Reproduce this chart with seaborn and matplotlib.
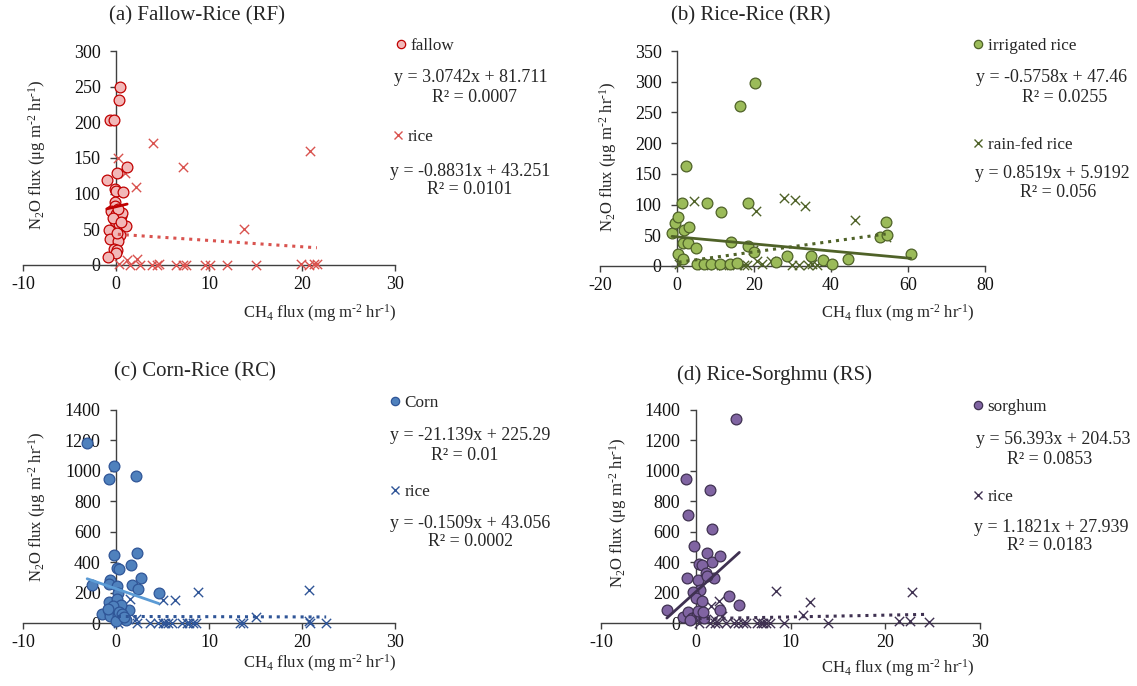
import matplotlib
matplotlib.use("Agg")
import matplotlib.pyplot as plt
from matplotlib.lines import Line2D
import numpy as np
import pandas as pd
import seaborn as sns

# ---- data ----
# (a) Fallow-Rice
fallow_x = [0.4, 0.3, -0.6, -0.2, 0.1, 1.2, -1.0, -0.1, 0.0, 0.8, -0.1, -0.1, -0.5, 0.0, 0.4, 0.5, 0.2,
            -0.1, 0.3, 0.6, 1.1, -0.8, 0.4, -0.6, 0.2, -0.2, 0.1, 0.0, -0.9, 0.2, -0.3, 0.5, 0.1]
fallow_y = [249, 231, 203, 203, 129, 138, 119, 106, 104, 102, 88, 83, 75, 72, 70, 68, 64,
            62, 57, 73, 55, 49, 42, 37, 33, 23, 21, 17, 11, 78, 66, 60, 45]
rice_a_x = [0.2, 1.0, 2.1, 4.0, 7.2, 13.8, 20.9, 0.3, 1.2, 2.3, 1.5, 2.6, 3.9, 4.4, 4.6, 6.4, 7.2,
            7.5, 9.6, 10.1, 11.9, 15.1, 19.9, 20.7, 21.3, 21.6]
rice_a_y = [150, 129, 109, 171, 138, 51, 160, 2, 7, 9, 0, 0, 0, 0, 1, 0, 0,
            0, 0, 0, 0, 0, 2, 0, 2, 2]

# (b) Rice-Rice
irr_x = [-1.3, -0.6, 0.3, 1.3, 1.7, 3.1, 2.3, 1.6, 2.9, 4.9, 0.3, 1.5, 7.9, 11.4, 14.0, 16.3, 20.2, 18.4,
         18.4, 20.0, 5.2, 6.9, 8.9, 11.1, 13.7, 15.6, 25.8, 28.7, 34.7, 37.9, 40.2, 44.4, 52.6, 54.6, 54.4, 60.7]
irr_y = [54, 70, 80, 102, 59, 64, 163, 38, 37, 30, 20, 11, 102, 88, 39, 260, 298, 103,
         33, 22, 3, 3, 3, 3, 3, 5, 7, 16, 16, 9, 3, 12, 48, 50, 71, 20]
rain_x = [4.3, 20.6, 27.7, 30.6, 33.3, 46.2, 19.7, 0.4, 6.8, 9.8, 11.3, 12.0, 15.7, 17.4, 18.3, 20.9,
          22.2, 24.4, 29.9, 31.7, 34.0, 35.1, 36.3, 54.2]
rain_y = [106, 90, 110, 107, 97, 75, 26, 3, 2, 2, 2, 2, 2, 2, 2, 8,
          3, 8, 2, 2, 2, 3, 2, 47]

# (c) Corn-Rice
corn_x = [-3.1, -0.25, -0.8, 2.2, -0.25, 2.3, 1.6, 0.1, 0.35, 2.7, -0.6, -2.6, -0.8, 0.1, 1.7, 2.4, 4.6, 0.2,
          -0.7, 0.1, 1.4, -1.5, -0.7, -0.6, 0.4, 0.2, 0.8, 1.1, 0.0, 0.5, -0.3, 0.3, 0.6, -0.9, 0.9]
corn_y = [1182, 1033, 947, 963, 447, 458, 382, 362, 352, 294, 284, 250, 258, 245, 250, 222, 200, 200,
          140, 155, 85, 59, 80, 47, 97, 52, 30, 19, 10, 120, 110, 70, 60, 95, 40]
rice_c_x = [1.5, 5.1, 6.3, 8.8, 20.7, 15.1, 2.2, 20.7, 0.2, 2.3, 3.7, 4.5, 5.0, 5.3, 5.6, 6.0, 7.1, 7.6,
            7.9, 8.3, 8.6, 13.3, 13.7, 20.9, 22.6]
rice_c_y = [160, 153, 153, 203, 214, 37, 26, 11, 2, 2, 2, 2, 2, 2, 2, 2, 2, 2,
            2, 2, 2, 2, 2, 2, 2]

# (d) Rice-Sorghum
sorg_x = [4.2, -1.0, 1.5, -0.8, 1.75, -0.2, 1.2, 1.75, 2.6, 0.3, 0.7, 1.05, -0.95, 0.2, 1.9, 1.2, 0.5,
          -0.25, 0.0, 0.7, 3.5, 4.6, 2.6, -3.05, -1.3, -0.8, -0.4, 0.1, 0.4, 0.6, 0.9, -0.6, 0.2, 0.8]
sorg_y = [1339, 945, 871, 707, 617, 508, 460, 403, 438, 387, 383, 328, 293, 284, 295, 306, 219,
          201, 164, 142, 175, 118, 83, 83, 40, 70, 30, 50, 60, 45, 35, 20, 80, 70]
rice_d_x = [8.5, 12.1, 22.8, 11.3, 2.5, 1.6, 2.8, 1.9, 0.3, 1.5, 2.0, 2.3, 3.2, 4.0, 4.5, 5.0, 5.3, 6.5,
            6.9, 7.1, 7.4, 7.8, 9.3, 14.0, 21.4, 22.6, 24.6]
rice_d_y = [208, 138, 203, 50, 142, 114, 44, 26, 2, 2, 2, 2, 2, 2, 2, 2, 2, 2,
            2, 2, 2, 2, 2, 2, 11, 11, 4]

titles = ["(a) Fallow-Rice (RF)", "(b) Rice-Rice (RR)", "(c) Corn-Rice (RC)", "(d) Rice-Sorghmu (RS)"]
circle_names = ["fallow", "irrigated rice", "Corn", "sorghum"]
cross_names = ["rice", "rain-fed rice", "rice", "rice"]
circle_fit = [(3.0742, 81.711), (-0.5758, 47.46), (-21.139, 225.29), (56.393, 204.53)]
cross_fit = [(-0.8831, 43.251), (0.8519, 5.9192), (-0.1509, 43.056), (1.1821, 27.939)]
r2_text = [("0.0007", "0.0101"), ("0.0255", "0.056"), ("0.01", "0.0002"), ("0.0853", "0.0183")]
x_ranges = [(-10, 30, 10), (-20, 80, 20), (-10, 30, 10), (-10, 30, 10)]
y_ranges = [(0, 300, 50), (0, 350, 50), (0, 1400, 200), (0, 1400, 200)]

circles = [(fallow_x, fallow_y), (irr_x, irr_y), (corn_x, corn_y), (sorg_x, sorg_y)]
crosses = [(rice_a_x, rice_a_y), (rain_x, rain_y), (rice_c_x, rice_c_y), (rice_d_x, rice_d_y)]

# colours: circle face, circle edge, circle trend, cross colour, cross trend
colors = [
    ("#F2B8B8", "#C00000", "#C00000", "#D9534F", "#D9534F"),
    ("#9BBB59", "#4F6228", "#4F6228", "#4F6228", "#4F6228"),
    ("#4F81BD", "#2F5597", "#5B9BD5", "#2F5597", "#2F5597"),
    ("#8064A2", "#3F3151", "#3F3151", "#3F3151", "#3F3151"),
]

# ---- layout (pixels in a 1137x686 canvas) ----
W, H = 1137, 686
axes_px = [(23, 51, 395, 265), (600, 51, 985, 266), (23, 410, 395, 623), (601, 410, 980, 623)]
title_px = [(197, 16), (751, 16), (195, 372), (774, 375)]
ylab_px = [(37, 155), (608, 157), (37, 507), (618, 513)]
xlab_px = [(320, 313), (898, 313), (320, 663), (898, 668)]
leg1_px = [(396, 46), (973, 46), (390, 403), (973, 407)]
eq1_px = [(471, 77, 475, 97), (1052, 77, 1065, 97), (470, 435, 465, 455), (1053, 440, 1050, 460)]
leg2_px = [(393, 137), (973, 145), (390, 492), (973, 497)]
eq2_px = [(470, 172, 470, 190), (1052, 173, 1058, 193), (470, 523, 470, 542), (1051, 527, 1050, 545)]

sns.set_style("ticks")
plt.rcParams["font.family"] = ["Liberation Serif", "DejaVu Serif"]
plt.rcParams["mathtext.fontset"] = "custom"
plt.rcParams["mathtext.rm"] = "Liberation Serif"
plt.rcParams["mathtext.it"] = "Liberation Serif:italic"
plt.rcParams["axes.unicode_minus"] = False

fig = plt.figure(figsize=(W / 100, H / 100), dpi=100)
fig.patch.set_facecolor("white")


def fpos(x, y):
    return x / W, 1 - y / H


FS = 12
YLAB = r"N$_2$O flux (μg m$^{\text{-2}}$ hr$^{\text{-1}}$)"
XLAB = r"CH$_4$ flux (mg m$^{\text{-2}}$ hr$^{\text{-1}}$)"

for i in range(4):
    l, t, r, b = axes_px[i]
    ax = fig.add_axes([l / W, 1 - b / H, (r - l) / W, (b - t) / H])
    face, edge, ctrend, xcol, xtrend = colors[i]

    cx, cy = circles[i]
    kx, ky = crosses[i]
    df_c = pd.DataFrame({"ch4": cx, "n2o": cy})
    df_k = pd.DataFrame({"ch4": kx, "n2o": ky})

    sns.scatterplot(data=df_k, x="ch4", y="n2o", ax=ax, marker="x", color=xcol, s=45,
                    linewidth=1.0, clip_on=False, zorder=3)
    sns.scatterplot(data=df_c, x="ch4", y="n2o", ax=ax, marker="o", color=face, edgecolor=edge,
                    s=60, linewidth=0.9, clip_on=False, zorder=4)

    # Excel-style linear trend lines, over each series' x-range
    m, c = circle_fit[i]
    xs = np.array([min(cx), max(cx)])
    sns.lineplot(x=xs, y=m * xs + c, ax=ax, color=ctrend, lw=2, zorder=5)
    m, c = cross_fit[i]
    xs = np.array([min(kx), max(kx)])
    sns.lineplot(x=xs, y=m * xs + c, ax=ax, color=xtrend, lw=2.2, linestyle=(0, (1, 1.6)), zorder=5)

    x0, x1, xst = x_ranges[i]
    y0, y1, yst = y_ranges[i]
    ax.set_xlim(x0, x1)
    ax.set_ylim(y0, y1)
    ax.set_xticks(np.arange(x0, x1 + 1, xst))
    ax.set_yticks(np.arange(y0, y1 + 1, yst))
    ax.set_xlabel("")
    ax.set_ylabel("")
    ax.spines["left"].set_position(("data", 0))
    ax.spines["bottom"].set_position(("data", 0))
    ax.spines["top"].set_visible(False)
    ax.spines["right"].set_visible(False)
    for s in ("left", "bottom"):
        ax.spines[s].set_color("#404040")
        ax.spines[s].set_linewidth(1.0)
    ax.tick_params(axis="both", direction="out", length=4, width=1.0, color="#404040",
                   labelsize=FS + 1, labelcolor="#111111")
    ax.tick_params(axis="y", pad=7)
    ax.tick_params(axis="x", pad=4)
    ax.patch.set_alpha(0)

    # titles and axis labels
    fig.text(*fpos(*title_px[i]), titles[i], ha="center", va="center", fontsize=15)
    fig.text(*fpos(*ylab_px[i]), YLAB, rotation=90, ha="center", va="center", fontsize=FS)
    fig.text(*fpos(*xlab_px[i]), XLAB, ha="center", va="center", fontsize=FS)

    # legend entries with regression equations
    h1 = Line2D([], [], marker="o", ls="", ms=6, mfc=face, mec=edge, mew=0.9)
    h2 = Line2D([], [], marker="x", ls="", ms=6, color=xcol, mew=1.0)
    for h, name, pos in ((h1, circle_names[i], leg1_px[i]), (h2, cross_names[i], leg2_px[i])):
        fig.legend(handles=[h], labels=[name], loc="center left", bbox_to_anchor=fpos(*pos),
                   frameon=False, handlelength=0.6, handletextpad=0.25, borderpad=0,
                   borderaxespad=0, fontsize=FS + 0.3)
    for fit, r2, pos in ((circle_fit[i], r2_text[i][0], eq1_px[i]), (cross_fit[i], r2_text[i][1], eq2_px[i])):
        m, c = fit
        sign = "+" if c >= 0 else "-"
        fig.text(*fpos(pos[0], pos[1]), f"y = {m:g}x {sign} {abs(c):g}", ha="center", va="center",
                 fontsize=FS + 0.9)
        fig.text(*fpos(pos[2], pos[3]), f"R² = {r2}", ha="center", va="center", fontsize=FS + 0.9)

fig.savefig("out.png", dpi=100, facecolor="white")
